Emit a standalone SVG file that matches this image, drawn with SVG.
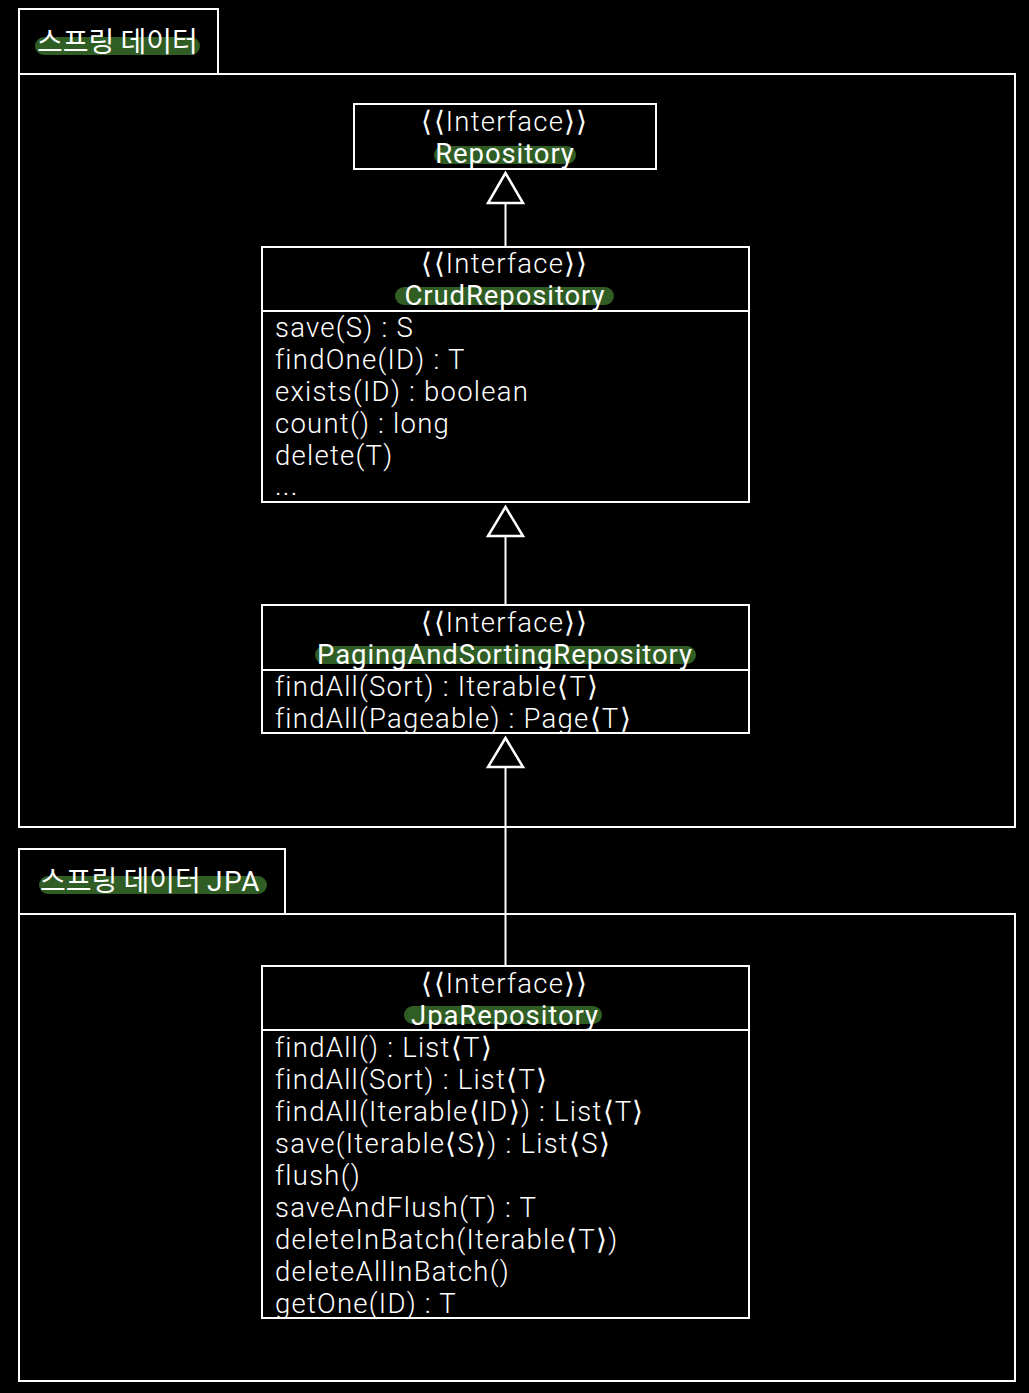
<svg xmlns="http://www.w3.org/2000/svg" width="1029" height="1393" viewBox="0 0 1029 1393">
<style>
.frame{fill:none;stroke:#fff;stroke-width:2}
.box{fill:#000;stroke:#fff;stroke-width:2}
.t{font-family:Roboto,"Noto Sans","Noto Sans CJK KR",sans-serif;font-weight:300;font-size:27.5px;fill:#fff;letter-spacing:1.25px}
.k{font-family:"Noto Sans CJK KR","Noto Sans",sans-serif;font-weight:400;font-size:28px;fill:#fff}
.c{text-anchor:middle}
.n{font-weight:400;letter-spacing:0.9px}
.hl{fill:none;stroke:#2f5d24;stroke-width:18;stroke-linecap:round}
.ln{stroke:#fff;stroke-width:2;fill:none}
.tri{fill:#000;stroke:#fff;stroke-width:2.5;stroke-linejoin:miter}
</style>
<rect width="1029" height="1393" fill="#000"/>
<g id="pkg-spring-data">
<rect class="frame" x="19" y="9" width="199" height="65"/>
<rect class="frame" x="19" y="74" width="996" height="753"/>
<path class="hl" d="M44 46 H191"/>
<text class="k" x="37" y="52">스프링 데이터</text>
</g>
<g id="pkg-spring-data-jpa">
<rect class="frame" x="19" y="849" width="266" height="65"/>
<rect class="frame" x="19" y="914" width="996" height="467"/>
<path class="hl" d="M48 885 H258"/>
<text class="k" x="40" y="891">스프링 데이터 <tspan font-family="Roboto, sans-serif" letter-spacing="1.5">JPA</tspan></text>
</g>
<g id="connectors">
<line class="ln" x1="505.5" y1="203" x2="505.5" y2="247"/>
<polygon class="tri" points="505.5,173 488,203 523,203"/>
<line class="ln" x1="505.5" y1="536" x2="505.5" y2="605"/>
<polygon class="tri" points="505.5,507 488,536 523,536"/>
<line class="ln" x1="505.5" y1="767" x2="505.5" y2="966"/>
<polygon class="tri" points="505.5,738 488,767 523,767"/>
</g>
<g id="node-repository">
<rect class="box" x="354" y="104" width="302" height="65"/>
<path class="hl" d="M443 155 H567"/>
<text class="t c" x="505" y="131">⟨⟨Interface⟩⟩</text>
<text class="t c n" x="505" y="163">Repository</text>
</g>
<g id="node-crud">
<rect class="box" x="262" y="247" width="487" height="255"/>
<line class="ln" x1="262" y1="311" x2="749" y2="311"/>
<path class="hl" d="M404 296 H605"/>
<text class="t c" x="505" y="273">⟨⟨Interface⟩⟩</text>
<text class="t c n" x="505" y="305">CrudRepository</text>
<text class="t" x="275" y="337">save(S) : S</text>
<text class="t" x="275" y="369">findOne(ID) : T</text>
<text class="t" x="275" y="401">exists(ID) : boolean</text>
<text class="t" x="275" y="433">count() : long</text>
<text class="t" x="275" y="465">delete(T)</text>
<text class="t" x="275" y="495" font-size="24">...</text>
</g>
<g id="node-paging">
<rect class="box" x="262" y="605" width="487" height="128"/>
<line class="ln" x1="262" y1="670" x2="749" y2="670"/>
<path class="hl" d="M324 655 H687"/>
<text class="t c" x="505" y="632">⟨⟨Interface⟩⟩</text>
<text class="t c n" x="505" y="664">PagingAndSortingRepository</text>
<text class="t" x="275" y="696">findAll(Sort) : Iterable⟨T⟩</text>
<text class="t" x="275" y="728">findAll(Pageable) : Page⟨T⟩</text>
</g>
<g id="node-jpa">
<rect class="box" x="262" y="966" width="487" height="352"/>
<line class="ln" x1="262" y1="1030" x2="749" y2="1030"/>
<path class="hl" d="M413 1015 H593"/>
<text class="t c" x="505" y="993">⟨⟨Interface⟩⟩</text>
<text class="t c n" x="505" y="1025">JpaRepository</text>
<text class="t" x="275" y="1057">findAll() : List⟨T⟩</text>
<text class="t" x="275" y="1089">findAll(Sort) : List⟨T⟩</text>
<text class="t" x="275" y="1121">findAll(Iterable⟨ID⟩) : List⟨T⟩</text>
<text class="t" x="275" y="1153">save(Iterable⟨S⟩) : List⟨S⟩</text>
<text class="t" x="275" y="1185">flush()</text>
<text class="t" x="275" y="1217">saveAndFlush(T) : T</text>
<text class="t" x="275" y="1249">deleteInBatch(Iterable⟨T⟩)</text>
<text class="t" x="275" y="1281">deleteAllInBatch()</text>
<text class="t" x="275" y="1313">getOne(ID) : T</text>
</g>
</svg>
